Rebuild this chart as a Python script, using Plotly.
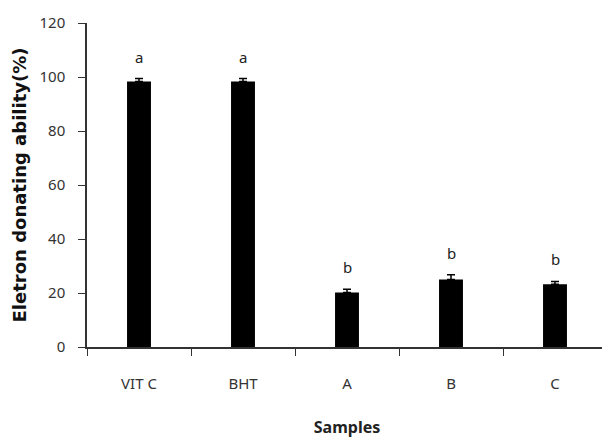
import plotly.graph_objects as go

categories = ["VIT C", "BHT", "A", "B", "C"]
values = [98.3, 98.3, 20.2, 25.0, 23.2]
errors = [1.1, 1.1, 1.2, 1.8, 1.1]
letters = ["a", "a", "b", "b", "b"]
y_ticks = [0, 20, 40, 60, 80, 100, 120]

fig = go.Figure()
fig.add_trace(go.Bar(
    x=categories, y=values,
    marker=dict(color="black", line=dict(width=0)),
    width=0.23,
    error_y=dict(type="data", array=errors, symmetric=False, arrayminus=[0]*5,
                 color="black", thickness=1.5, width=4),
))

for c, v, e, l in zip(categories, values, errors, letters):
    fig.add_annotation(x=c, y=v + e, text=l, showarrow=False, yanchor="bottom",
                       yshift=10, font=dict(family="Noto Sans", size=15, color="#222"))

font_fam = "Noto Sans"
fig.update_layout(
    width=602, height=430,
    margin=dict(l=79, r=3, t=15, b=91),
    plot_bgcolor="white", paper_bgcolor="white",
    showlegend=False,
    font=dict(family=font_fam, size=15, color="#333"),
    xaxis=dict(
        type="category", tickson="boundaries", ticks="outside", ticklen=7,
        tickcolor="#333", showline=True, linecolor="#333", linewidth=1.5,
        showgrid=False, range=[-0.5, 4.5], ticklabelstandoff=22,
        automargin=False,
        tickfont=dict(family=font_fam, size=15, color="#333"),
        title=dict(text="<b>Samples</b>", standoff=34,
                   font=dict(family=font_fam, size=16, color="#222")),
    ),
    yaxis=dict(
        range=[0, 120], tickvals=y_ticks, ticks="outside", ticklen=7,
        tickcolor="#333", showline=True, linecolor="#333", linewidth=1.5,
        showgrid=False, zeroline=False, ticklabelstandoff=10,
        automargin=False,
        tickfont=dict(family=font_fam, size=15, color="#333"),
        title=dict(text="<b>Eletron donating ability(%)</b>", standoff=8,
                   font=dict(family="DejaVu Sans", size=18, color="#111")),
    ),
)

fig.write_html("out.html")
